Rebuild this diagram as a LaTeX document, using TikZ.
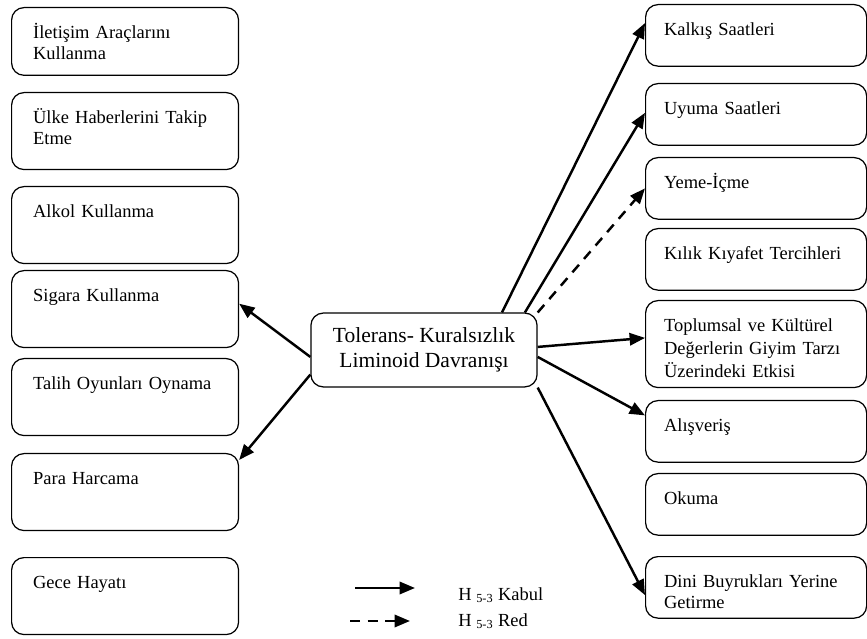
\documentclass[tikz,border=0pt]{standalone}
\usepackage{fontspec}
\setmainfont{Liberation Serif}
\usetikzlibrary{arrows.meta}

\begin{document}
\begin{tikzpicture}[
	% Kutu ve ok stilleri (kod daha kısa olsun diye)
	kutu/.style={draw, rounded corners=8pt, line width=0.8pt, anchor=north west, align=left, inner ysep=11pt, text height=9pt},
	solkutu/.style={kutu, text width=119.5pt, inner xsep=14pt, text depth=19pt}, % sol sütundaki kutular
	sagkutu/.style={kutu, text width=119.65pt, inner xsep=12pt, text depth=9pt}, % sağ sütundaki kutular
	merkezkutu/.style={draw, rounded corners=8pt, line width=0.8pt, minimum width=147pt, minimum height=48pt, align=center, font=\fontsize{14}{16}\selectfont},
	ok/.style={-{Triangle[length=10pt,width=8pt]}, line width=1.6pt}, % kabul edilen hipotez
	kesikok/.style={ok, dash pattern=on 6.5pt off 5pt} % reddedilen hipotez
	,line join=round,font=\fontsize{12}{13.8}\selectfont,x=0.65pt,y=-0.65pt]
	\useasboundingbox (0,0) rectangle (867,639);

	% Sol sütun
	\node[solkutu, text depth=13pt] (iletisim) at (11,7) {İletişim Araçlarını\\Kullanma};
	\node[solkutu] (ulke) at (11,92) {Ülke Haberlerini Takip\\Etme};
	\node[solkutu] (alkol) at (11,186) {Alkol Kullanma};
	\node[solkutu] (sigara) at (11,270) {Sigara Kullanma};
	\node[solkutu] (talih) at (11,358) {Talih Oyunları Oynama};
	\node[solkutu] (para) at (11,453) {Para Harcama};
	\node[solkutu] (gece) at (11,557) {Gece Hayatı};

	% Sağ sütun
	\node[sagkutu] (kalkis) at (645,4) {Kalkış Saatleri};
	\node[sagkutu] (uyuma) at (645,83) {Uyuma Saatleri};
	\node[sagkutu] (yeme) at (645,157) {Yeme-İçme};
	\node[sagkutu] (kilik) at (645,228) {Kılık Kıyafet Tercihleri};
	\node[sagkutu, text depth=25.5pt, font=\fontsize{12}{15}\selectfont] (toplumsal) at (645,300) {Toplumsal ve Kültürel\\Değerlerin Giyim Tarzı\\Üzerindeki Etkisi};
	\node[sagkutu] (alisveris) at (645,400) {Alışveriş};
	\node[sagkutu] (okuma) at (645,473) {Okuma};
	\node[sagkutu] (dini) at (645,556) {Dini Buyrukları Yerine\\Getirme};

	% Ortadaki kutu
	\node[merkezkutu] (merkez) at (424,350) {Tolerans- Kuralsızlık\\Liminoid Davranışı};

	% Oklar
	\draw[ok] ([yshift=-4.5pt]merkez.west) -- ([yshift=3.5pt]sigara.east);
	\draw[ok] ([yshift=-16pt]merkez.west) -- ([yshift=-4.5pt]para.north east);
	\draw[ok] ([xshift=50.7pt]merkez.north) -- ([yshift=8pt]kalkis.west);
	\draw[ok] ([xshift=65.6pt]merkez.north) -- ([yshift=1pt]uyuma.west);
	\draw[kesikok] (merkez.north east) -- (yeme.west);
	\draw[ok] ([yshift=2pt]merkez.east) -- ([yshift=4pt]toplumsal.west);
	\draw[ok] ([yshift=-4.5pt]merkez.east) -- ([yshift=-10pt]alisveris.north west);
	\draw[ok] (merkez.south east) -- ([yshift=-5pt]dini.west);

	% Açıklama
	\coordinate (k1) at (355,588);
	\coordinate (k2) at (415,588);
	\coordinate (r1) at (350,621);
	\coordinate (r2) at (410,621);
	\draw[ok] (k1) -- (k2);
	\draw[kesikok] (r1) -- (r2);
	\node[anchor=base west, inner sep=0pt] (kabul) at (458,600) {H \textsubscript{5-3} Kabul};
	\node[anchor=base west, inner sep=0pt] (red) at (458,626) {H \textsubscript{5-3} Red};

\end{tikzpicture}
\end{document}
